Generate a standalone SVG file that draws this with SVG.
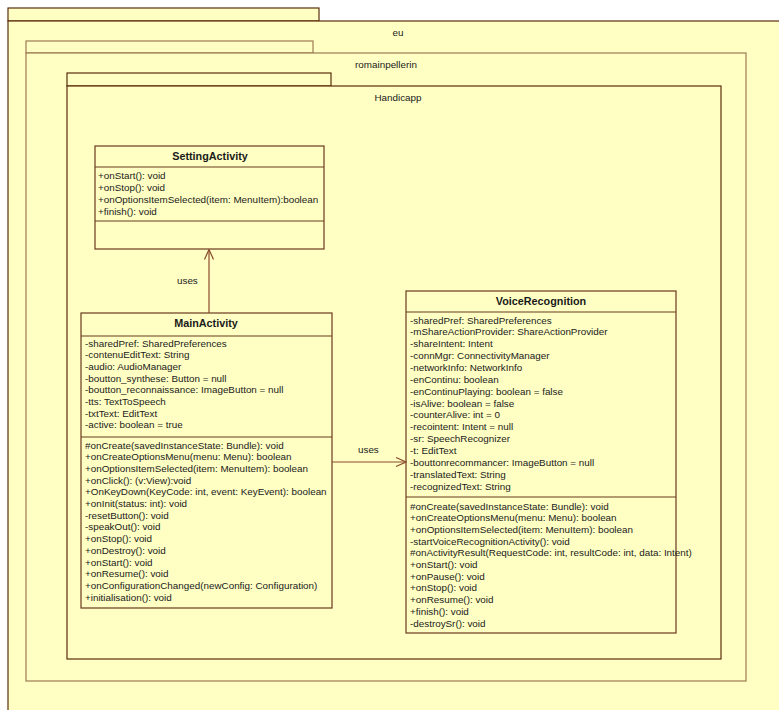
<svg xmlns="http://www.w3.org/2000/svg" width="779" height="710" viewBox="0 0 779 710">
<style>
.pkg{fill:#ffffc4;stroke:#5a2d0c;stroke-width:1.2}
.pkg2{fill:#ffffc4;stroke:#9c7a52;stroke-width:1.2}
.box{fill:#ffffc4;stroke:#6b3a1e;stroke-width:1.2}
.sep{stroke:#6b3a1e;stroke-width:1.2}
text{font-family:"Liberation Sans",Arial,sans-serif;font-size:9.85px;fill:#1a1a1a}
.t{font-weight:bold;font-size:10.8px;text-anchor:middle}
.c{text-anchor:middle}
.con{stroke:#8b4a2b;stroke-width:1.2;fill:none}
</style>
<defs>
<marker id="open" viewBox="0 0 12 12" refX="11" refY="6" markerWidth="12" markerHeight="12" markerUnits="userSpaceOnUse" orient="auto">
<path d="M1,1.5 L11,6 L1,10.5" fill="none" stroke="#8b4a2b" stroke-width="1.2"/>
</marker>
</defs>
<rect width="779" height="710" fill="#ffffff"/>
<g id="pkg-eu">
<rect class="pkg" x="8" y="8" width="311" height="13"/>
<rect class="pkg" x="8" y="21" width="790" height="700"/>
<text class="c" x="398" y="36">eu</text>
</g>
<g id="pkg-romainpellerin">
<rect class="pkg2" x="26" y="41" width="287" height="12"/>
<rect class="pkg2" x="26" y="53" width="720" height="628"/>
<text class="c" x="386" y="68">romainpellerin</text>
</g>
<g id="pkg-handicapp">
<rect class="pkg" x="67" y="73" width="264" height="13"/>
<rect class="pkg" x="67" y="86" width="654" height="573"/>
<text class="c" x="398" y="101">Handicapp</text>
</g>
<g id="SettingActivity">
<rect class="box" x="95" y="146" width="229" height="103"/>
<line class="sep" x1="95" y1="167" x2="324" y2="167"/>
<line class="sep" x1="95" y1="221" x2="324" y2="221"/>
<text class="t" x="210" y="160">SettingActivity</text>
<text x="98" y="178.5">+onStart(): void</text>
<text x="98" y="190.5">+onStop(): void</text>
<text x="98" y="202.5">+onOptionsItemSelected(item: MenuItem):boolean</text>
<text x="98" y="214.5">+finish(): void</text>
</g>
<g id="MainActivity">
<rect class="box" x="81" y="313" width="251" height="295"/>
<line class="sep" x1="81" y1="336" x2="332" y2="336"/>
<line class="sep" x1="81" y1="437" x2="332" y2="437"/>
<text class="t" x="206" y="327">MainActivity</text>
<text x="85" y="346.5">-sharedPref: SharedPreferences</text>
<text x="85" y="358.2">-contenuEditText: String</text>
<text x="85" y="369.9">-audio: AudioManager</text>
<text x="85" y="381.6">-boutton_synthese: Button = null</text>
<text x="85" y="393.3">-boutton_reconnaissance: ImageButton = null</text>
<text x="85" y="405">-tts: TextToSpeech</text>
<text x="85" y="416.7">-txtText: EditText</text>
<text x="85" y="428.4">-active: boolean = true</text>
<text x="85" y="448.5">#onCreate(savedInstanceState: Bundle): void</text>
<text x="85" y="460.2">+onCreateOptionsMenu(menu: Menu): boolean</text>
<text x="85" y="471.9">+onOptionsItemSelected(item: MenuItem): boolean</text>
<text x="85" y="483.6">+onClick(): (v:View):void</text>
<text x="85" y="495.3">+OnKeyDown(KeyCode: int, event: KeyEvent): boolean</text>
<text x="85" y="507">+onInit(status: int): void</text>
<text x="85" y="518.7">-resetButton(): void</text>
<text x="85" y="530.4">-speakOut(): void</text>
<text x="85" y="542.1">+onStop(): void</text>
<text x="85" y="553.8">+onDestroy(): void</text>
<text x="85" y="565.5">+onStart(): void</text>
<text x="85" y="577.2">+onResume(): void</text>
<text x="85" y="588.9">+onConfigurationChanged(newConfig: Configuration)</text>
<text x="85" y="600.6">+initialisation(): void</text>
</g>
<g id="VoiceRecognition">
<rect class="box" x="406" y="291" width="270" height="342"/>
<line class="sep" x1="406" y1="312" x2="676" y2="312"/>
<line class="sep" x1="406" y1="497" x2="676" y2="497"/>
<text class="t" x="541" y="305">VoiceRecognition</text>
<text x="410" y="323.5">-sharedPref: SharedPreferences</text>
<text x="410" y="335.4">-mShareActionProvider: ShareActionProvider</text>
<text x="410" y="347.2">-shareIntent: Intent</text>
<text x="410" y="359.1">-connMgr: ConnectivityManager</text>
<text x="410" y="370.9">-networkInfo: NetworkInfo</text>
<text x="410" y="382.8">-enContinu: boolean</text>
<text x="410" y="394.7">-enContinuPlaying: boolean = false</text>
<text x="410" y="406.5">-isAlive: boolean = false</text>
<text x="410" y="418.4">-counterAlive: int = 0</text>
<text x="410" y="430.2">-recointent: Intent = null</text>
<text x="410" y="442.1">-sr: SpeechRecognizer</text>
<text x="410" y="454">-t: EditText</text>
<text x="410" y="465.8">-bouttonrecommancer: ImageButton = null</text>
<text x="410" y="477.7">-translatedText: String</text>
<text x="410" y="489.5">-recognizedText: String</text>
<text x="410" y="509.5">#onCreate(savedInstanceState: Bundle): void</text>
<text x="410" y="521.2">+onCreateOptionsMenu(menu: Menu): boolean</text>
<text x="410" y="532.9">+onOptionsItemSelected(item: MenuItem): boolean</text>
<text x="410" y="544.6">-startVoiceRecognitionActivity(): void</text>
<text x="410" y="556.3">#onActivityResult(RequestCode: int, resultCode: int, data: Intent)</text>
<text x="410" y="568">+onStart(): void</text>
<text x="410" y="579.7">+onPause(): void</text>
<text x="410" y="591.4">+onStop(): void</text>
<text x="410" y="603.1">+onResume(): void</text>
<text x="410" y="614.8">+finish(): void</text>
<text x="410" y="626.5">-destroySr(): void</text>
</g>
<g id="connectors">
<line class="con" x1="209" y1="313" x2="209" y2="249.5" marker-end="url(#open)"/>
<text x="177" y="284">uses</text>
<line class="con" x1="332" y1="462" x2="406" y2="462" marker-end="url(#open)"/>
<text x="358" y="453">uses</text>
</g>
</svg>
